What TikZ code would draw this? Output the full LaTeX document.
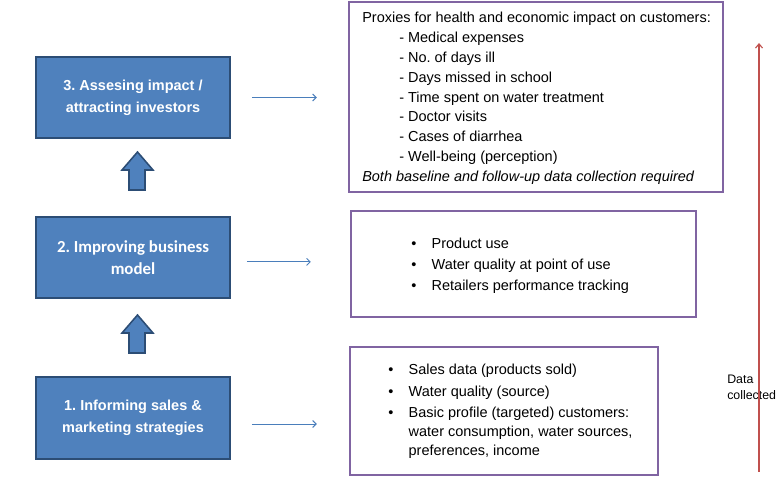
\documentclass[tikz,border=0pt]{standalone}
\usepackage{fontspec}
\setmainfont{Liberation Sans}
\newfontfamily\carlito{Carlito}
\usetikzlibrary{arrows.meta}
\frenchspacing

\definecolor{boxblue}{HTML}{4F81BD}
\definecolor{boxedge}{HTML}{2C4D75}
\definecolor{listpurple}{HTML}{8064A2}
\definecolor{linkblue}{HTML}{4A7EBB}
\definecolor{datared}{HTML}{C0504D}

\tikzset{
  stage/.style={draw=boxedge, line width=1.3pt, fill=boxblue, text=white,
    font=\bfseries\fontsize{10.3}{15.6}\selectfont, align=center,
    minimum width=4.85cm, minimum height=2.03cm, inner sep=0pt},
  listbox/.style={draw=listpurple, line width=1.6pt, inner sep=0pt},
  listtext/.style={anchor=north west, inner sep=0pt, align=left,
    font=\fontsize{10.3}{14.1}\selectfont},
  link/.style={draw=linkblue, line width=0.7pt, -{Straight Barb[length=2.5pt,width=5pt]}},
  uparrow/.style={draw=boxedge, line width=1.1pt, fill=boxblue, line join=miter},
}
\newcommand{\dashitem}[1]{\hspace*{0.925cm}- #1}
\newcommand{\bulitem}[1]{\makebox[0.51cm][l]{\textbullet}#1}

\begin{document}
\begin{tikzpicture}[x=0.025cm, y=-0.025cm]
    \useasboundingbox (0,0) rectangle (784,503);

    % Stages
    \node[stage] (assess) at (133,97.5) {3. Assesing impact /\\attracting investors};
    \node[stage, font=\carlito\bfseries\fontsize{12}{15.6}\selectfont] (improve) at (133,257.5) {2. Improving business\\model};
    \node[stage] (inform) at (133,418) {1. Informing sales \&\\marketing strategies};

    % Block arrows between stages
    \foreach \yb in {190,353}
        \draw[uparrow] (129,\yb) -- (129,{\yb-20}) -- (122,{\yb-20}) -- (137.5,{\yb-38})
            -- (153,{\yb-20}) -- (145,{\yb-20}) -- (145,\yb) -- cycle;

    % Data lists
    \node[listbox, minimum width=9.35cm, minimum height=4.75cm] (proxies) at (536,97) {};
    \node[listtext] (proxytext) at (362,12) {Proxies for health and economic impact on customers:\\
        \dashitem{Medical expenses}\\
        \dashitem{No. of days ill}\\
        \dashitem{Days missed in school}\\
        \dashitem{Time spent on water treatment}\\
        \dashitem{Doctor visits}\\
        \dashitem{Cases of diarrhea}\\
        \dashitem{Well-being (perception)}\\
        \textit{Both baseline and follow-up data collection required}};

    \node[listbox, minimum width=8.625cm, minimum height=2.65cm] (usage) at (523.5,264) {};
    \node[listtext, font=\fontsize{10.3}{14.9}\selectfont] (usagetext) at (411,237.5) {\bulitem{Product use}\\
        \bulitem{Water quality at point of use}\\
        \bulitem{Retailers performance tracking}};

    \node[listbox, minimum width=7.7cm, minimum height=3.2cm] (sales) at (504,411) {};
    \node[listtext, font=\fontsize{10.3}{13.5}\selectfont] (salestext) at (388,364) {\bulitem{Sales data (products sold)}\\[1.7pt]
        \bulitem{Water quality (source)}\\[1.7pt]
        \bulitem{Basic profile (targeted) customers:}\\
        \hspace*{0.51cm}water consumption, water sources,\\
        \hspace*{0.51cm}preferences, income};

    % Links
    \draw[link, shorten <=0.525cm, shorten >=0.775cm] (assess.east) -- (assess.east -| proxies.west);
    \draw[link, shorten <=0.4cm, shorten >=0.975cm] ([yshift=-0.11cm]improve.east) -- ([yshift=-0.11cm]improve.east -| usage.west);
    \draw[link, shorten <=0.525cm, shorten >=0.8cm] ([yshift=-0.15cm]inform.east) -- ([yshift=-0.15cm]inform.east -| sales.west);

    % Data collected
    \node[anchor=west, align=left, inner sep=0pt, font=\fontsize{8.8}{11.3}\selectfont] (datalabel) at (727,387) {Data\\collected};
    \coordinate (datalow) at (759,472);
    \coordinate (datahigh) at (759,43);
    \draw[datared, line width=0.8pt, -{Straight Barb[length=3pt,width=5pt]}] (datalow) -- (datahigh);
\end{tikzpicture}
\end{document}
